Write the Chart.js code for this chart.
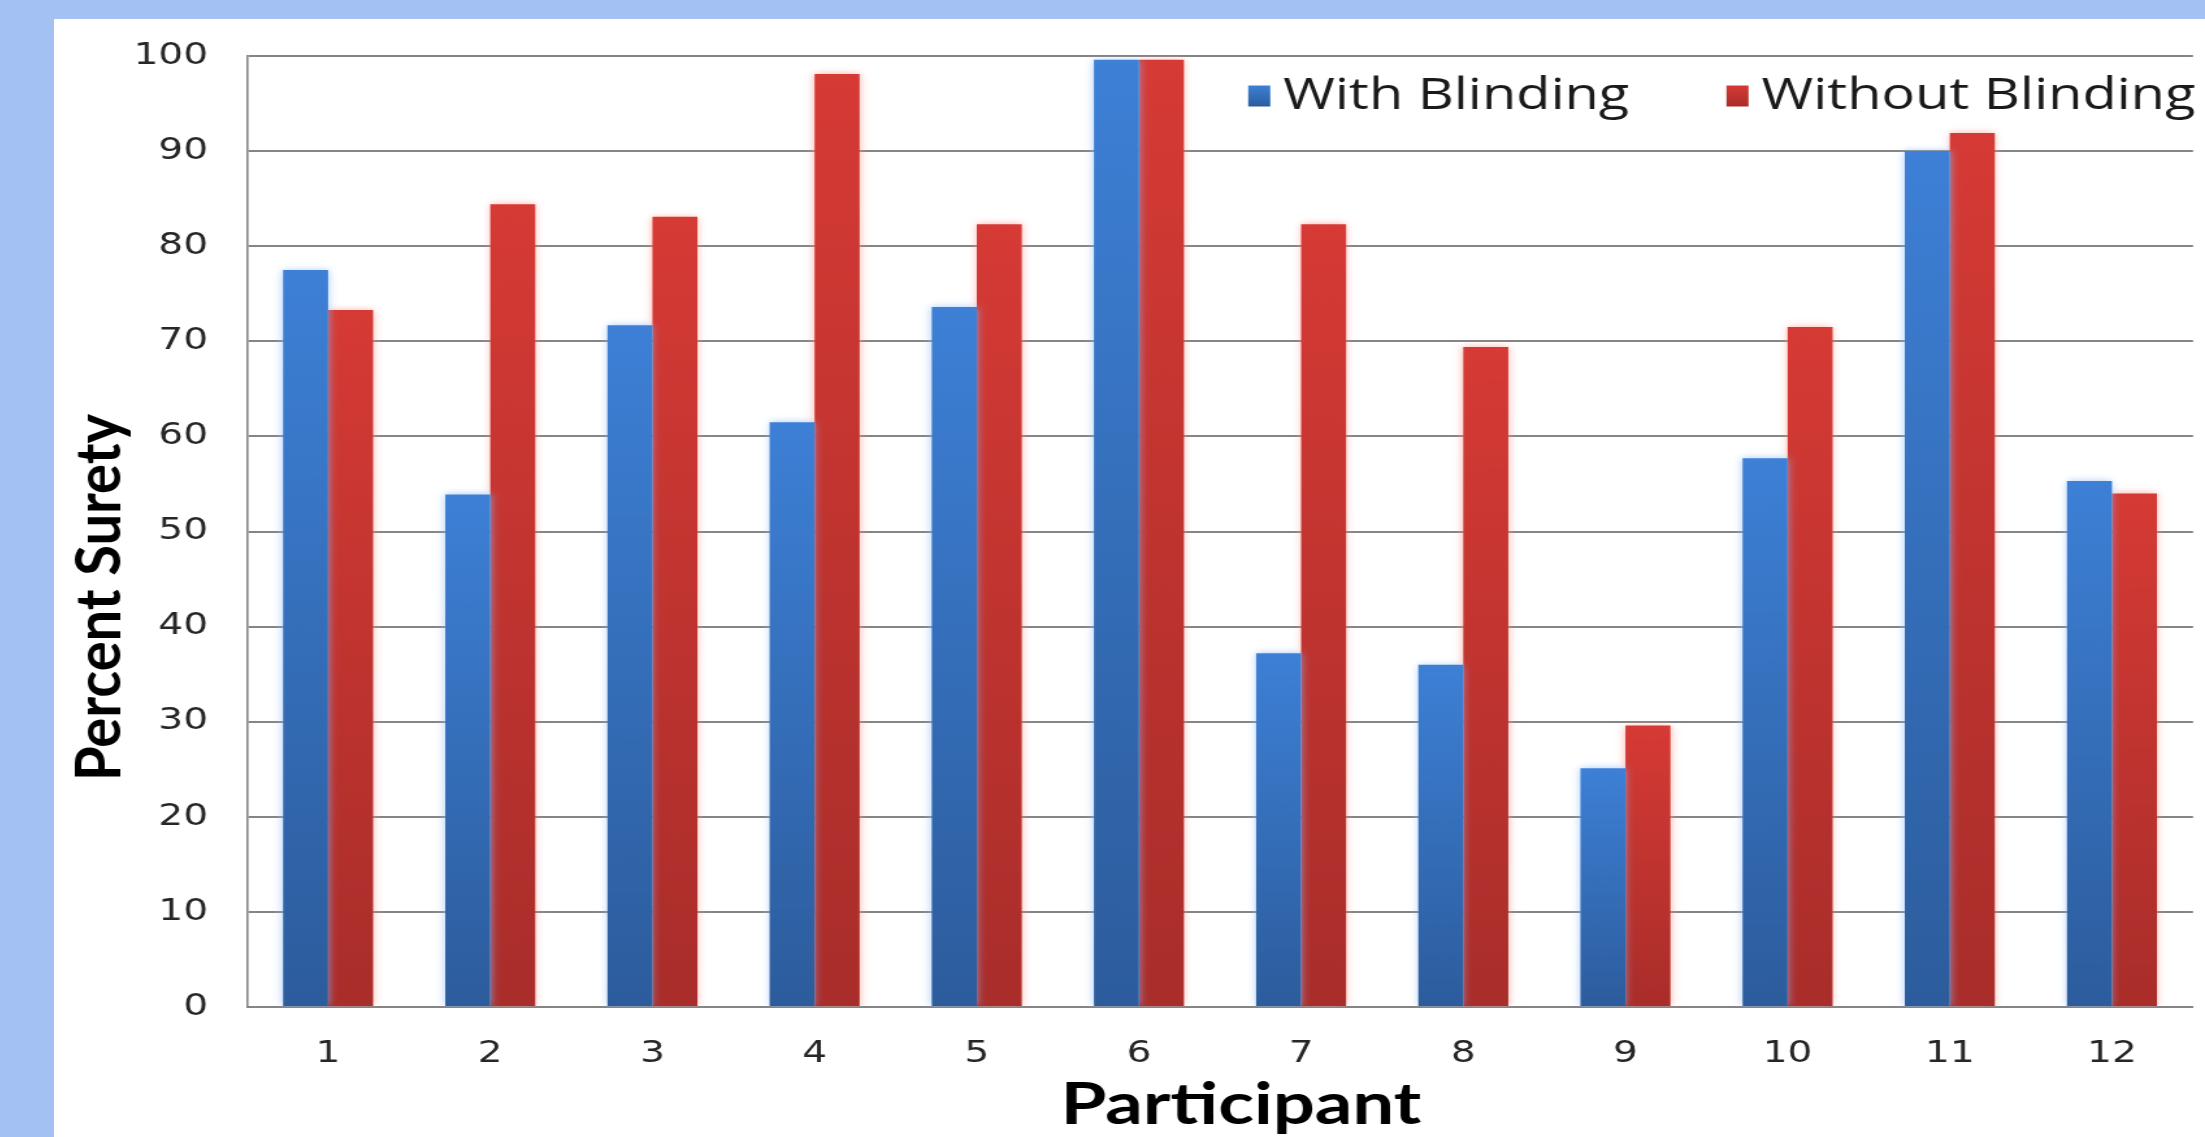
<!DOCTYPE html>
<html>
<head>
<meta charset="utf-8">
<script src="https://cdn.jsdelivr.net/npm/chart.js@4/dist/chart.umd.min.js"></script>
<style>
  html, body { margin: 0; padding: 0; width: 2205px; height: 1137px; overflow: hidden; background: #a3c1f3; }
  #frame { position: absolute; left: 54px; top: 19px; width: 2151px; height: 1118px; background: #ffffff; }
  /* the drawing surface is widened to the frame width, giving the wide lettering of the slide */
  #c { display: block; width: 2151px !important; height: 1118px !important; }
</style>
</head>
<body>
<div id="frame"><canvas id="c" width="1655" height="1118"></canvas></div>
<script>
// ---- data ----
const participants = ['1', '2', '3', '4', '5', '6', '7', '8', '9', '10', '11', '12'];
const withBlinding = [77.5, 53.9, 71.7, 61.5, 73.6, 99.6, 37.2, 36.0, 25.1, 57.7, 90.0, 55.3];
const withoutBlinding = [73.3, 84.4, 83.1, 98.1, 82.3, 99.6, 82.3, 69.4, 29.6, 71.5, 91.9, 54.0];
const seriesNames = ['With Blinding', 'Without Blinding'];
const yTickValues = [0, 10, 20, 30, 40, 50, 60, 70, 80, 90, 100];
const xAxisTitle = 'Participant';
const yAxisTitle = 'Percent Surety';

// ---- styling ----
const BLUE = { light: '#3d80d6', dark: '#2c5c9c', glow: 'rgba(140,185,250,0.75)' };
const RED = { light: '#d63a35', dark: '#a92d2a', glow: 'rgba(250,150,140,0.75)' };
const GRID = '#858585';
const TEXT = '#1a1a1a';

// vertical gradient per bar, from its top down to the zero line
function barFill(col) {
  return (ctx) => {
    const chart = ctx.chart;
    if (ctx.type !== 'data' || !chart.chartArea) return col.light;
    const ys = chart.scales.y;
    const top = ys.getPixelForValue(ctx.raw);
    const base = ys.getPixelForValue(0);
    const g = chart.ctx.createLinearGradient(0, top, 0, base);
    g.addColorStop(0, col.light);
    g.addColorStop(1, col.dark);
    return g;
  };
}

// soft halo around each series' bars
const barGlow = {
  id: 'barGlow',
  beforeDatasetDraw(chart, args) {
    const c = chart.ctx;
    c.save();
    c.shadowColor = chart.data.datasets[args.index].glow;
    c.shadowBlur = 7;
  },
  afterDatasetDraw(chart) {
    chart.ctx.restore();
  }
};

// legend placed inside the plot, top right, and the two axis titles
const decorations = {
  id: 'decorations',
  afterDraw(chart, args, opts) {
    const c = chart.ctx;
    const area = chart.chartArea;
    c.save();

    // legend: each entry starts at a fixed distance from the plot's right edge
    c.font = opts.legendFont;
    c.textBaseline = 'middle';
    c.textAlign = 'left';
    const cy = area.top + opts.legendOffsetY;
    chart.data.datasets.forEach((d, i) => {
      const x = area.right + opts.itemStarts[i];
      const g = c.createLinearGradient(0, cy - opts.boxH / 2, 0, cy + opts.boxH / 2);
      g.addColorStop(0, d.swatch.light);
      g.addColorStop(1, d.swatch.dark);
      c.fillStyle = g;
      c.fillRect(x, cy - opts.boxH / 2, opts.boxW, opts.boxH);
      c.fillStyle = TEXT;
      c.fillText(d.label, x + opts.boxW + opts.boxGap, cy + 1);
    });

    // x axis title
    c.font = opts.titleFont;
    c.fillStyle = '#000000';
    c.textAlign = 'center';
    c.textBaseline = 'middle';
    c.fillText(xAxisTitle, (area.left + area.right) / 2 + opts.xTitleDX, area.bottom + opts.xTitleDY);

    // y axis title, reading upward
    c.translate(opts.yTitleX, (area.top + area.bottom) / 2 + opts.yTitleDY);
    c.scale(opts.yTitleSqueeze, 1);
    c.rotate(-Math.PI / 2);
    c.font = opts.yTitleFont;
    c.fillText(yAxisTitle, 0, 0);
    c.restore();
  }
};

new Chart(document.getElementById('c'), {
  type: 'bar',
  data: {
    labels: participants,
    datasets: [
      { label: seriesNames[0], data: withBlinding, backgroundColor: barFill(BLUE), swatch: BLUE, glow: BLUE.glow,
        borderWidth: 0, categoryPercentage: 0.555, barPercentage: 1.0 },
      { label: seriesNames[1], data: withoutBlinding, backgroundColor: barFill(RED), swatch: RED, glow: RED.glow,
        borderWidth: 0, categoryPercentage: 0.555, barPercentage: 1.0 }
    ]
  },
  options: {
    responsive: false,
    animation: false,
    events: [],
    devicePixelRatio: 1,
    layout: { padding: { top: 37, right: 9.2, left: 0, bottom: 0 } },
    plugins: {
      legend: { display: false },
      tooltip: { enabled: false },
      decorations: {
        legendFont: '43px "Open Sans"',
        boxW: 17, boxH: 21, boxGap: 10,
        itemStarts: [-727, -359],
        legendOffsetY: 40,
        titleFont: 'bold 57px Lato',
        yTitleFont: 'bold 56px Lato',
        yTitleSqueeze: 0.84,
        xTitleDX: 16, xTitleDY: 99,
        yTitleX: 36, yTitleDY: 66
      }
    },
    scales: {
      x: {
        grid: { display: false, drawTicks: false },
        border: { display: true, color: GRID, width: 2 },
        ticks: { padding: 29, color: '#262626', font: { family: 'DejaVu Sans', size: 30 } },
        afterFit(s) { s.height = 130; s.paddingLeft = 0; s.paddingRight = 0; }
      },
      y: {
        min: 0, max: 100,
        afterBuildTicks(s) { s.ticks = yTickValues.map(v => ({ value: v })); },
        grid: { color: GRID, lineWidth: 2, drawTicks: false },
        border: { display: true, color: GRID, width: 1.6 },
        ticks: { padding: 30, color: '#262626', font: { family: 'DejaVu Sans', size: 30 } },
        afterFit(s) { s.width = 148.5; s.paddingTop = 0; s.paddingBottom = 0; }
      }
    }
  },
  plugins: [barGlow, decorations]
});
</script>
</body>
</html>
